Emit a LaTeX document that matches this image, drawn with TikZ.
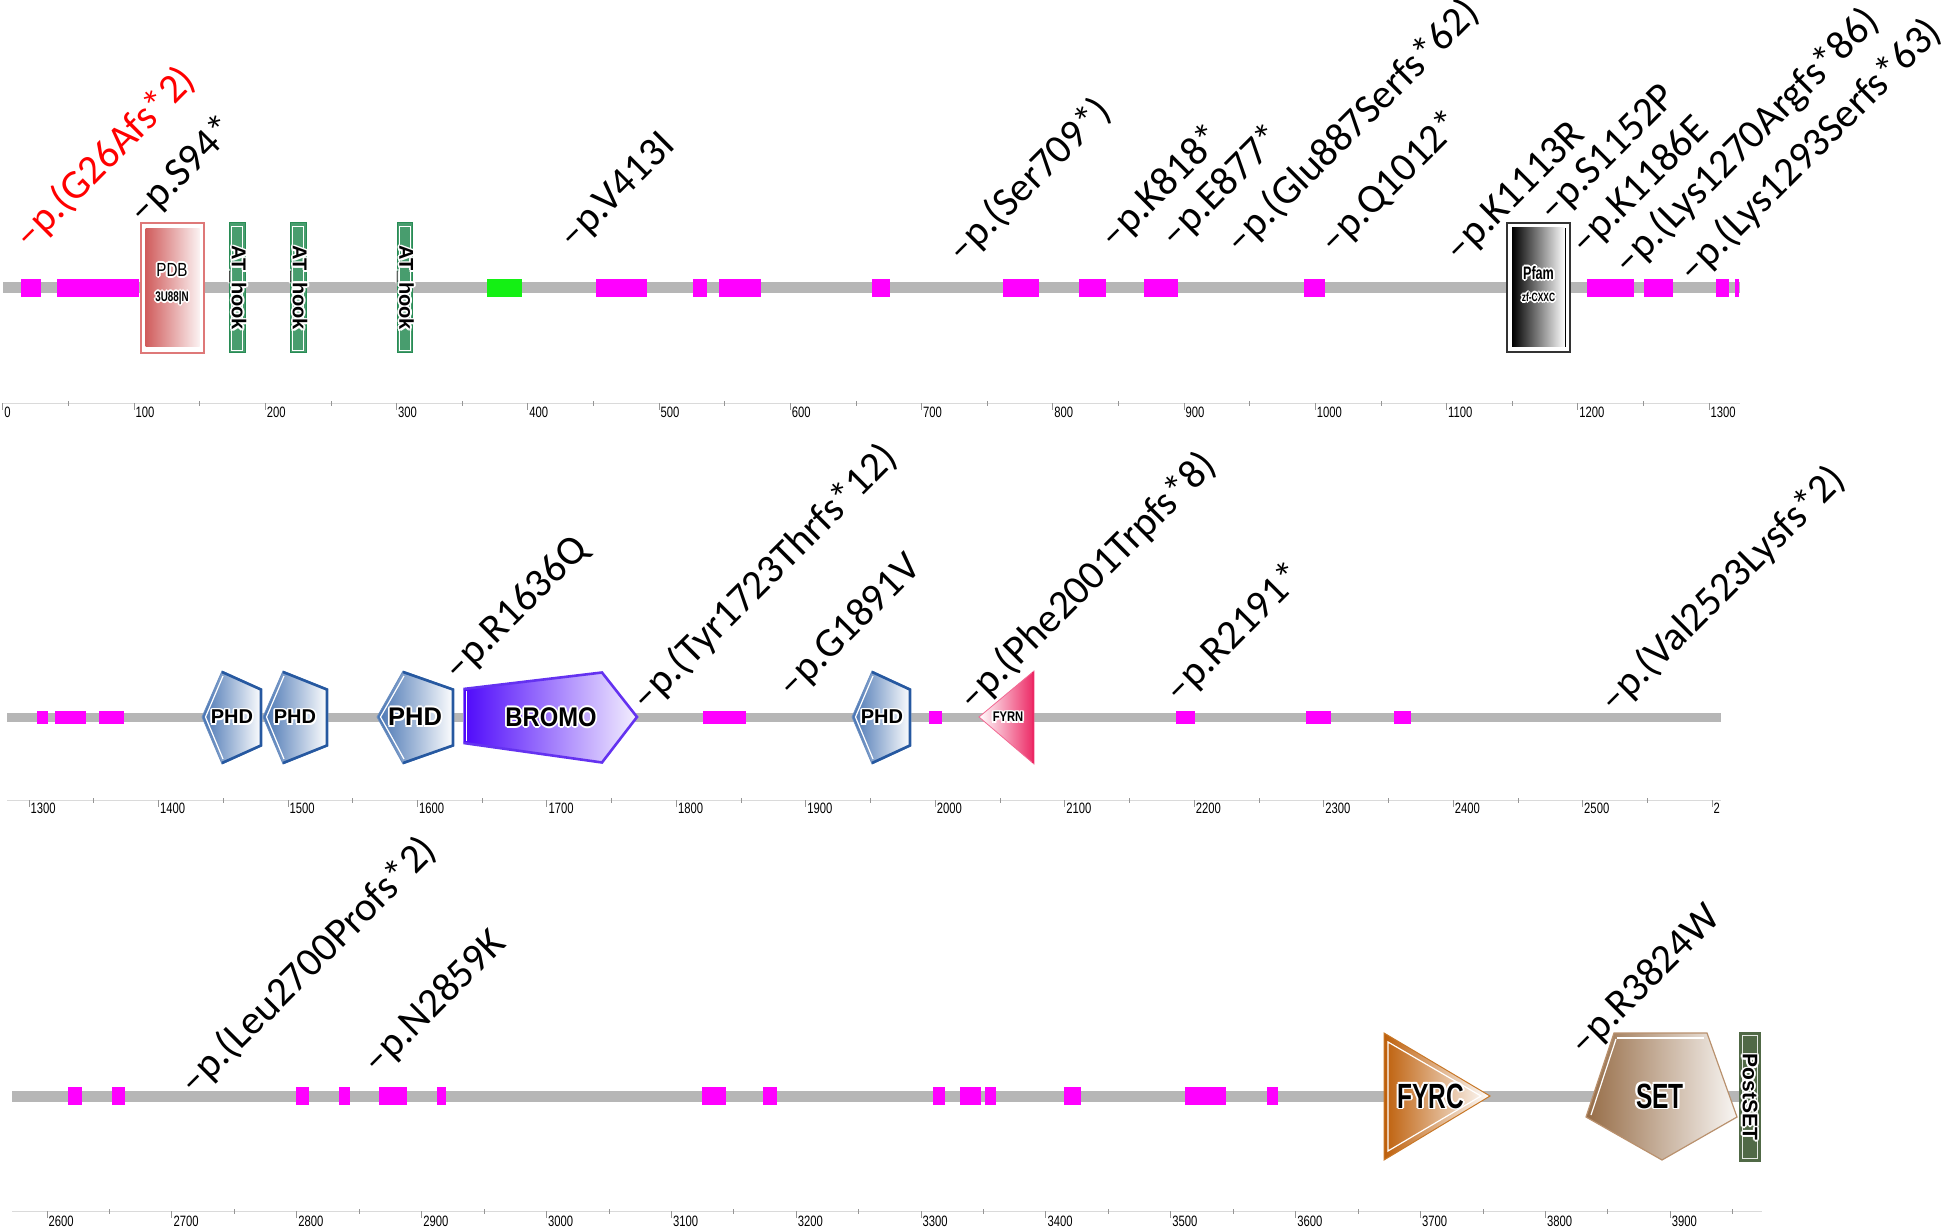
\documentclass[tikz,border=0pt]{standalone}
\usepackage{fontspec}
\usepackage{graphicx}
\usetikzlibrary{calc}
\newfontfamily\mutfont{Carlito}
\newfontfamily\axfont[FakeStretch=0.75]{Liberation Sans}
\newfontfamily\domfont{Liberation Sans}
\newfontfamily\domfontn[FakeStretch=0.88]{Liberation Sans}
\newfontfamily\domfontm[FakeStretch=0.8]{Liberation Sans}
\newfontfamily\domfontc[FakeStretch=0.7]{Liberation Sans}
\definecolor{bbgray}{RGB}{182,182,182}
\definecolor{mag}{RGB}{255,0,255}
\definecolor{grn}{RGB}{20,240,20}
\definecolor{pdbred}{RGB}{208,92,92}
\definecolor{pdbline}{RGB}{222,120,120}
\definecolor{atg}{RGB}{40,140,85}
\definecolor{phdb}{RGB}{70,115,178}
\definecolor{phdd}{RGB}{38,88,160}
\definecolor{bromo}{RGB}{78,8,250}
\definecolor{bromod}{RGB}{100,50,240}
\definecolor{fyrn}{RGB}{236,40,100}
\definecolor{fyrc}{RGB}{190,95,10}
\definecolor{fyrcl}{RGB}{200,120,40}
\definecolor{setb}{RGB}{150,108,70}
\definecolor{setl}{RGB}{185,145,110}
\definecolor{postg}{RGB}{80,105,70}
\definecolor{axg}{RGB}{218,218,218}
\definecolor{tickg}{RGB}{150,150,150}
\newcommand{\halo}[4]{%
  \foreach \hang in {0,45,...,315}{\node[#2, text=white] at ($#3+(\hang:1.8)$) {#4};}
  \node[#2] (#1) at #3 {#4};}
\newcommand{\phdshape}[3]{%
  \path[left color=phdb, right color=white] (#1,717) -- (#2,671) -- (#3,689) -- (#3,746) -- (#2,764) -- cycle;
  \draw[phdb!80, line width=0.8pt, line join=miter] (#1,717) -- (#2,671) -- (#3,689) -- (#3,746) -- (#2,764) -- cycle;
  \draw[white, line width=1.2pt] ($(#2,671)+(1,5)$) -- ($(#1,717)+(3.5,0)$) -- ($(#2,764)+(1,-5)$);
  \draw[phdd, line width=2.6pt, line join=miter] ($(#2,671)+(0,1)$) -- ($(#3,689)+(-1.2,0.5)$) -- ($(#3,746)+(-1.2,-0.5)$) -- ($(#2,764)+(0,-1)$);}
\tikzset{
  mut/.style={font=\mutfont\fontsize{41}{41}\selectfont, rotate=45, anchor=base west, inner sep=0pt},
  axlab/.style={font=\axfont\fontsize{15}{15}\selectfont, anchor=west, inner sep=0pt, text=black},
  dl/.style={inner sep=0pt, text=black},
}
\begin{document}
\begin{tikzpicture}[x=1pt, y=-1pt]
\useasboundingbox (0,0) rectangle (1946,1230);
% ---------------- backbones
\fill[bbgray] (3,282) rectangle (1740,293);
\fill[bbgray] (7,713) rectangle (1721,722);
\fill[bbgray] (12,1091) rectangle (1742,1102);
% ---------------- small boxes
\foreach \a/\b in {21/41, 57/139, 596/647, 693/707, 719/761, 872/890, 1003/1039, 1079/1106, 1144/1178, 1304/1325, 1587/1634, 1644/1673, 1716/1729, 1735/1739}
  \fill[mag] (\a,279) rectangle (\b,297);
\fill[grn] (487,279) rectangle (522,297);
\foreach \a/\b in {37/48, 55/86, 99/124, 703/746, 929/942, 1176/1195, 1306/1331, 1394/1411}
  \fill[mag] (\a,711) rectangle (\b,724);
\foreach \a/\b in {68/82, 112/125, 296/309, 339/350, 379/407, 437/446, 702/726, 763/777, 933/945, 960/981, 985/996, 1064/1081, 1185/1226, 1267/1278}
  \fill[mag] (\a,1087) rectangle (\b,1105);
% ---------------- axes
\draw[axg, line width=1pt] (3,403) -- (1740,403);
\foreach \k in {0,...,13}{
  \pgfmathsetmacro\xx{2.75+131.25*\k}
  \pgfmathtruncatemacro\lab{100*\k}
  \draw[tickg, line width=0.8pt] (\xx,403) -- (\xx,410);
  \node[axlab] (ta\k) at (\xx+1.5,412) {\lab};}
\foreach \k in {0,...,12}{
  \pgfmathsetmacro\xx{2.75+131.25*(\k+0.5)}
  \draw[tickg, line width=0.6pt] (\xx,401) -- (\xx,406);}
\draw[axg, line width=1pt] (7,800) -- (1721,800);
\foreach \k in {0,...,12}{
  \pgfmathsetmacro\xx{29+129.46*\k}
  \pgfmathtruncatemacro\lab{1300+100*\k}
  \draw[tickg, line width=0.8pt] (\xx,800) -- (\xx,807);
  \node[axlab] (tb\k) at (\xx+1.5,808) {\lab};}
\draw[tickg, line width=0.8pt] (1712,800) -- (1712,807);
\node[axlab] (tb13) at (1713.5,808) {2};
\foreach \k in {0,...,12}{
  \pgfmathsetmacro\xx{29+129.46*(\k+0.5)}
  \draw[tickg, line width=0.6pt] (\xx,798) -- (\xx,803);}
\draw[axg, line width=1pt] (12,1211) -- (1762,1211);
\foreach \k in {0,...,13}{
  \pgfmathsetmacro\xx{47+124.86*\k}
  \pgfmathtruncatemacro\lab{2600+100*\k}
  \draw[tickg, line width=0.8pt] (\xx,1211) -- (\xx,1218);
  \node[axlab] (tc\k) at (\xx+1.5,1221) {\lab};}
\foreach \k in {0,...,13}{
  \pgfmathsetmacro\xx{47+124.86*(\k+0.5)}
  \draw[tickg, line width=0.6pt] (\xx,1209) -- (\xx,1214);}
% ---------------- row 1 domains
\draw[pdbline, line width=1.6pt, fill=white] (141,223) rectangle (204,353);
\path[left color=pdbred, right color=pdbred!8] (145.5,229) rectangle (199.5,347);
\halo{pdb}{dl, font=\domfontm\fontsize{19}{19}\selectfont}{(172,270)}{PDB}
\halo{pdbid}{dl, font=\domfontc\bfseries\fontsize{14}{14}\selectfont}{(172,298)}{3U88|N}
\foreach \c in {237.25, 298.3, 404.75}{
  \draw[atg, line width=1pt, left color=atg!85, middle color=white, right color=atg!85] (\c-7.75,223) rectangle (\c+7.75,353);
  \draw[white, line width=0.8pt] (\c-5.5,226) rectangle (\c+5.5,350);}
\halo{at1}{dl, rotate=-90, font=\domfont\bfseries\fontsize{20}{20}\selectfont}{(238,288)}{AT\_hook}
\halo{at2}{dl, rotate=-90, font=\domfont\bfseries\fontsize{20}{20}\selectfont}{(299,288)}{AT\_hook}
\halo{at3}{dl, rotate=-90, font=\domfont\bfseries\fontsize{20}{20}\selectfont}{(405.5,288)}{AT\_hook}
\draw[black!80, line width=1.2pt, fill=white] (1507,223) rectangle (1570,352);
\path[left color=black, right color=white] (1512,228) rectangle (1565,347);
\draw[black, line width=1.2pt] (1565.5,228) -- (1565.5,347);
\halo{pfam}{dl, font=\domfontc\bfseries\fontsize{18}{18}\selectfont}{(1538.5,273)}{Pfam}
\halo{zf}{dl, font=\domfontc\bfseries\fontsize{12}{12}\selectfont}{(1538.5,297)}{zf-CXXC}
% ---------------- row 2 domains
\phdshape{202}{222}{262}
\phdshape{263}{283}{328}
\phdshape{377}{403}{454}
\phdshape{852}{872}{911}
\path[left color=bromo, right color=bromo!6] (463,689) -- (602,672) -- (638,717) -- (602,763) -- (463,743) -- cycle;
\draw[bromod!70, line width=0.8pt] (463,689) -- (463,743);
\draw[white, line width=1.4pt] (466.5,691) -- (466.5,741);
\draw[bromod, line width=2.6pt, line join=miter] (463.5,689) -- (602,672.5) -- (637,717) -- (602,762.5) -- (463.5,743);
\path[left color=white, right color=fyrn] (979,717) -- (1034,671) -- (1034,764) -- cycle;
\draw[fyrn!70, line width=0.8pt, line join=miter] (979,717) -- (1034,671) -- (1034,764) -- cycle;
\draw[fyrn, line width=2.6pt] (1033,672) -- (1033,763);
\halo{phd1}{dl, font=\domfont\bfseries\fontsize{20}{20}\selectfont}{(232,717)}{PHD}
\halo{phd2}{dl, font=\domfont\bfseries\fontsize{20}{20}\selectfont}{(295,717)}{PHD}
\halo{phd3}{dl, font=\domfont\bfseries\fontsize{25.5}{25.5}\selectfont}{(415,717)}{PHD}
\halo{phd4}{dl, font=\domfont\bfseries\fontsize{20}{20}\selectfont}{(882,717)}{PHD}
\halo{bro}{dl, font=\domfontn\bfseries\fontsize{27}{27}\selectfont}{(551,717)}{BROMO}
\halo{fyrn}{dl, font=\domfontm\bfseries\fontsize{14}{14}\selectfont}{(1008,717)}{FYRN}
% ---------------- row 3 domains
\path[left color=fyrc, right color=white] (1384,1033) -- (1490,1096) -- (1384,1160) -- cycle;
\draw[fyrcl, line width=1pt, line join=miter] (1384,1033) -- (1490,1096) -- (1384,1160) -- cycle;
\draw[white, line width=1.2pt, line join=miter] (1388,1042) -- (1481,1096) -- (1388,1151) -- cycle;
\path[left color=setb, right color=setb!6] (1614,1033) -- (1707,1033) -- (1737,1117) -- (1662,1160) -- (1586,1117) -- cycle;
\draw[setl, line width=1.2pt, line join=miter] (1614,1033) -- (1707,1033) -- (1737,1117) -- (1662,1160) -- (1586,1117) -- cycle;
\draw[white, line width=1.2pt] (1617,1038) -- (1704,1038);
\draw[white, line width=1.2pt] (1616,1039) -- (1591,1115);
\draw[postg, line width=1pt, left color=postg, middle color=white, right color=postg] (1739,1032) rectangle (1760,1161);
\draw[white!85!postg, line width=0.8pt] (1742,1035) rectangle (1757,1158);
\halo{fyrc}{dl, font=\domfontc\bfseries\fontsize{35}{35}\selectfont}{(1431,1096)}{FYRC}
\halo{set}{dl, font=\domfontc\bfseries\fontsize{35}{35}\selectfont}{(1660,1096)}{SET}
\halo{post}{dl, rotate=-90, font=\domfont\bfseries\fontsize{21}{21}\selectfont}{(1750,1097)}{PostSET}
% ---------------- mutation labels
\node[mut, text=red] (m1) at ($(22,243)+(7.5,7.5)$) {–p.(G26Afs*2)};
\node[mut] (m2) at ($(136,218)+(7.5,7.5)$) {–p.S94*};
\node[mut] (m3) at ($(566,243)+(7.5,7.5)$) {–p.V413I};
\node[mut] (m4) at ($(955,257)+(7.5,7.5)$) {–p.(Ser709*)};
\node[mut] (m5) at ($(1107,243)+(7.5,7.5)$) {–p.K818*};
\node[mut] (m6) at ($(1168,242)+(7.5,7.5)$) {–p.E877*};
\node[mut] (m7) at ($(1233,248)+(7.5,7.5)$) {–p.(Glu887Serfs*62)};
\node[mut] (m8) at ($(1327,248)+(7.5,7.5)$) {–p.Q1012*};
\node[mut] (m9) at ($(1452,256)+(7.5,7.5)$) {–p.K1113R};
\node[mut] (m10) at ($(1546,216)+(7.5,7.5)$) {–p.S1152P};
\node[mut] (m11) at ($(1578,249)+(7.5,7.5)$) {–p.K1186E};
\node[mut] (m12) at ($(1621,269)+(7.5,7.5)$) {–p.(Lys1270Argfs*86)};
\node[mut] (m13) at ($(1686,277)+(7.5,7.5)$) {–p.(Lys1293Serfs*63)};
\node[mut] (m14) at ($(451,675)+(7.5,7.5)$) {–p.R1636Q};
\node[mut] (m15) at ($(639,705)+(7.5,7.5)$) {–p.(Tyr1723Thrfs*12)};
\node[mut] (m16) at ($(785,692)+(7.5,7.5)$) {–p.G1891V};
\node[mut] (m17) at ($(966,705)+(7.5,7.5)$) {–p.(Phe2001Trpfs*8)};
\node[mut] (m18) at ($(1172,697)+(7.5,7.5)$) {–p.R2191*};
\node[mut] (m19) at ($(1607,707)+(7.5,7.5)$) {–p.(Val2523Lysfs*2)};
\node[mut] (m20) at ($(187,1089)+(7.5,7.5)$) {–p.(Leu2700Profs*2)};
\node[mut] (m21) at ($(370,1068)+(7.5,7.5)$) {–p.N2859K};
\node[mut] (m22) at ($(1577,1050)+(7.5,7.5)$) {–p.R3824W};
\end{tikzpicture}
\end{document}
